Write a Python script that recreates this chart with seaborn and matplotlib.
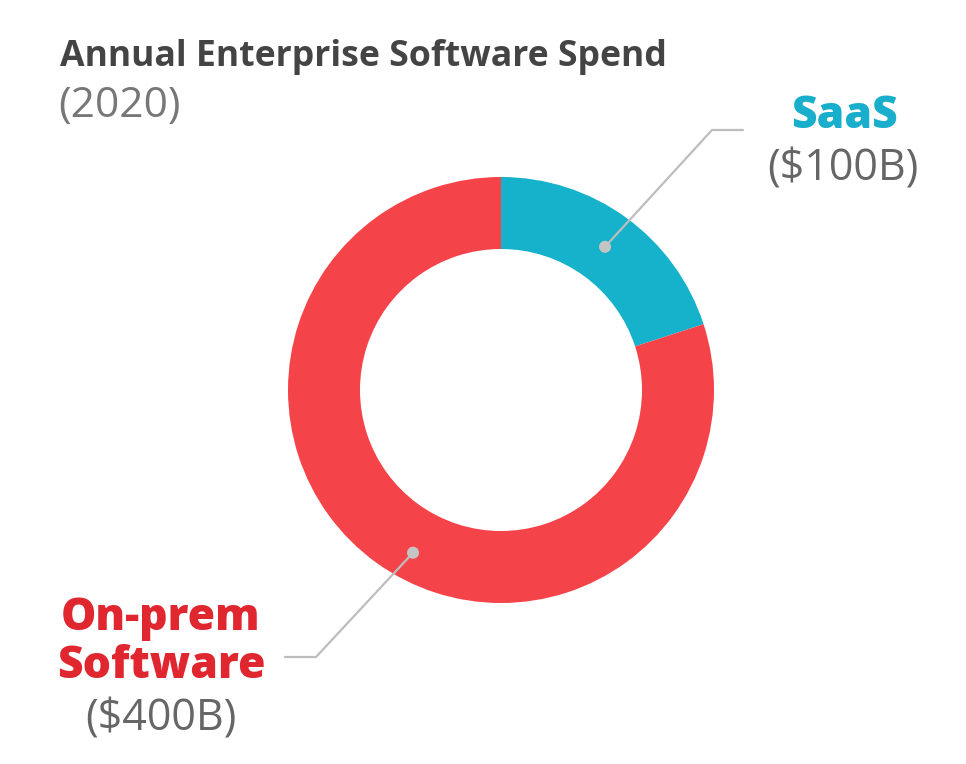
import numpy as np
import matplotlib
matplotlib.use("Agg")
import matplotlib.pyplot as plt
import seaborn as sns

sns.set_theme(style="white")
plt.rcParams["font.family"] = ["Open Sans", "DejaVu Sans"]

# data
segments = ["SaaS", "On-prem\nSoftware"]
values = [100, 400]
value_labels = ["($100B)", "($400B)"]
colors = ["#16b1cb", "#f5434a"]
text_colors = ["#19aecb", "#e0262e"]
title = "Annual Enterprise Software Spend"
subtitle = "(2020)"

W, H = 966, 764
fig = plt.figure(figsize=(W / 100, H / 100), dpi=100)
ax = fig.add_axes([0, 0, 1, 1])

cx, cy = 501, H - 390
r_out, ring = 213, 72

wedges, _ = ax.pie(
    values,
    colors=colors,
    startangle=90,
    counterclock=False,
    radius=r_out,
    center=(cx, cy),
    wedgeprops=dict(width=ring, edgecolor="none"),
    frame=True,
)
ax.set_xlim(0, W)
ax.set_ylim(0, H)
ax.set_aspect("equal")
ax.axis("off")

# leader lines from dot on the ring to label
line_col = "#bdbdbd"
# SaaS: dot at mid-angle of its wedge
w = wedges[0]
ang = np.deg2rad((w.theta1 + w.theta2) / 2)
r_mid = r_out - ring / 2
dx, dy = cx + r_mid * np.cos(ang), cy + r_mid * np.sin(ang)
ax.plot([dx, 712, 743], [dy, H - 130, H - 130], color=line_col, lw=1.6, zorder=3)
ax.scatter([dx], [dy], s=75, color="#c4c4c4", zorder=4, edgecolor="none")

# On-prem: dot on the lower-left of the ring
ang2 = np.deg2rad(241.6)
r2 = 185
dx2, dy2 = cx + r2 * np.cos(ang2), cy + r2 * np.sin(ang2)
ax.plot([dx2, 316, 285], [dy2, H - 657, H - 657], color=line_col, lw=1.6, zorder=3)
ax.scatter([dx2], [dy2], s=75, color="#c4c4c4", zorder=4, edgecolor="none")

# titles
ax.text(60, H - 66, title, fontsize=25.7, fontweight="bold", color="#444444",
        ha="left", va="baseline")
ax.text(58, H - 117, subtitle, fontsize=30.5, color="#777777",
        ha="left", va="baseline")

# segment labels
lab_kw = dict(fontsize=32, fontweight="heavy", ha="center", va="baseline")
val_kw = dict(fontsize=31, color="#666666", ha="center", va="baseline")
ax.text(844, H - 128, segments[0], color=text_colors[0], **lab_kw)
ax.text(843, H - 180, value_labels[0], **val_kw)

on_prem, software = segments[1].split("\n")
ax.text(161, H - 630, on_prem, color=text_colors[1], **lab_kw)
ax.text(161, H - 678, software, color=text_colors[1], **lab_kw)
ax.text(161, H - 731, value_labels[1], **val_kw)

fig.savefig("out.png", dpi=100, facecolor="white")
